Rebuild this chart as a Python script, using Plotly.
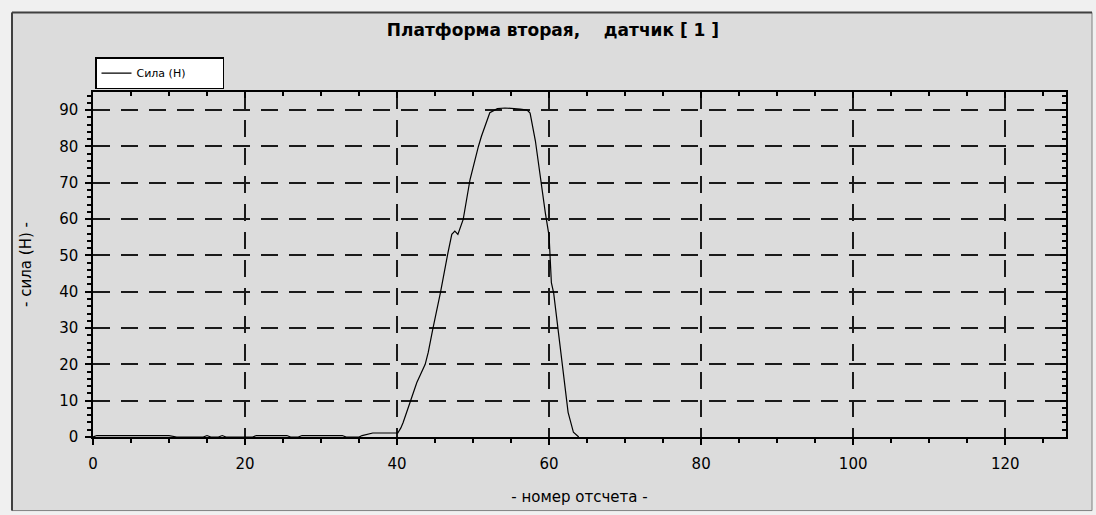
import plotly.graph_objects as go

# ---- data ----
sample_no = [0, 0.5, 2, 4, 6, 8, 10, 11, 12, 14.5, 15, 15.5, 16.5, 17, 17.5, 21, 21.5, 23, 25.5, 26,
             27, 27.5, 30, 32.8, 33.3, 35, 35.4, 36.8, 38, 40.1, 40.5, 40.8, 41.7, 42.6, 43.7, 44.1,
             44.7, 45.7, 46.7, 47.2, 47.6, 48.0, 48.7, 49.6, 50.7, 51.1, 52.2, 53.2, 54.2, 55.1, 56.2,
             57.1, 57.5, 58.2, 58.8, 59.5, 60.0, 60.1, 60.3, 60.6, 61.2, 61.7, 62.1, 62.5, 63.2, 63.9]
force_n = [0, 0.4, 0.4, 0.5, 0.4, 0.4, 0.4, 0, 0, 0, 0.4, 0, 0, 0.4, 0, 0, 0.4, 0.4, 0.4, 0,
           0, 0.4, 0.4, 0.4, 0, 0, 0.4, 1.1, 1.1, 1.1, 2.5, 4.0, 9.5, 15.0, 20.0, 23.3,
           29.7, 39.7, 50.8, 55.8, 56.7, 55.8, 59.9, 70.9, 80.0, 82.8, 89.3, 90.4, 90.6, 90.5, 90.3,
           90.0, 89.2, 81.5, 71.9, 61.8, 55.3, 49.8, 42.5, 39.7, 29.7, 20.0, 13.2, 6.8, 1.3, 0]

series_name = "Сила (Н)"
chart_title = "Платформа вторая,\u00a0\u00a0\u00a0\u00a0датчик [ 1 ]"
x_title = "- номер отсчета -"
y_title = "- сила (Н) -"
x_range = [0, 128]
y_range = [0, 95]

FONT = "DejaVu Sans"

fig = go.Figure()
fig.add_trace(go.Scatter(x=sample_no, y=force_n, mode="lines",
                         name=series_name + "\u00a0" * 9,
                         line=dict(color="#000000", width=1.2)))
# helper trace so mirrored (inside-pointing) tick axes exist
fig.add_trace(go.Scatter(x=sample_no, y=force_n, mode="lines", xaxis="x2", yaxis="y2",
                         line=dict(color="rgba(0,0,0,0)", width=0), showlegend=False,
                         hoverinfo="skip"))

L, R, T, B = 93, 30, 92, 76
W, H = 1096, 515
pw, ph = W - L - R, H - T - B

def px2paper_x(px):
    return (px - L) / pw

def px2paper_y(py):
    return (H - B - py) / ph

# outer window frame
fig.add_shape(type="rect", xref="paper", yref="paper",
              x0=px2paper_x(12), x1=px2paper_x(1092), y0=px2paper_y(513), y1=px2paper_y(12),
              fillcolor="#dcdcdc", line=dict(color="#808080", width=1), layer="below")
fig.add_shape(type="line", xref="paper", yref="paper",
              x0=px2paper_x(12), x1=px2paper_x(1092), y0=px2paper_y(12), y1=px2paper_y(12),
              line=dict(color="#404040", width=2), layer="below")
fig.add_shape(type="line", xref="paper", yref="paper",
              x0=px2paper_x(12), x1=px2paper_x(12), y0=px2paper_y(513), y1=px2paper_y(12),
              line=dict(color="#404040", width=2), layer="below")

grid = dict(showgrid=True, gridcolor="#1a1a1a", gridwidth=1.5, griddash="17px,11px")

fig.update_layout(
    width=W, height=H,
    margin=dict(l=L, r=R, t=T, b=B),
    paper_bgcolor="#f0f0f0",
    plot_bgcolor="#ffffff",
    font=dict(family=FONT, size=15, color="#000000"),
    title=dict(text="<b>" + chart_title + "</b>", x=553 / W, xref="container", xanchor="center",
               y=1 - 30 / H, yref="container", yanchor="middle",
               font=dict(family=FONT, size=17, color="#000000")),
    showlegend=True,
    legend=dict(x=px2paper_x(95), y=px2paper_y(57), xanchor="left", yanchor="top",
                bgcolor="#ffffff", bordercolor="#000000", borderwidth=1.5,
                font=dict(family=FONT, size=11, color="#000000"),
                itemwidth=30, tracegroupgap=0),
    xaxis=dict(range=x_range, dtick=20, tick0=0, **grid,
               showline=True, linecolor="#000000", linewidth=1.5, mirror=True,
               ticks="outside", ticklen=6, tickwidth=1.5, tickcolor="#000000",
               minor=dict(dtick=5, ticks="outside", ticklen=4, tickcolor="#000000", showgrid=False),
               zeroline=False, ticklabelstandoff=6,
               title=dict(text=x_title, standoff=20, font=dict(family=FONT, size=15)),
               tickfont=dict(family=FONT, size=15)),
    yaxis=dict(range=y_range, dtick=10, tick0=0, **grid,
               showline=True, linecolor="#000000", linewidth=1.5, mirror=True,
               ticks="outside", ticklen=6, tickwidth=1.5, tickcolor="#000000",
               minor=dict(dtick=2, ticks="outside", ticklen=4, tickcolor="#000000", showgrid=False),
               zeroline=False, ticklabelstandoff=4,
               title=dict(text=y_title, standoff=24, font=dict(family=FONT, size=15)),
               tickfont=dict(family=FONT, size=15)),
    xaxis2=dict(range=x_range, dtick=20, tick0=0, overlaying="x", side="top", anchor="y",
                showgrid=False, showticklabels=False, zeroline=False, showline=False,
                ticks="inside", ticklen=6, tickwidth=1.5, tickcolor="#000000",
                minor=dict(dtick=5, ticks="inside", ticklen=4, tickcolor="#000000")),
    yaxis2=dict(range=y_range, dtick=10, tick0=0, overlaying="y", side="right", anchor="x",
                showgrid=False, showticklabels=False, zeroline=False, showline=False,
                ticks="inside", ticklen=6, tickwidth=1.5, tickcolor="#000000",
                minor=dict(dtick=2, ticks="inside", ticklen=4, tickcolor="#000000")),
)

fig.write_html("out.html")
